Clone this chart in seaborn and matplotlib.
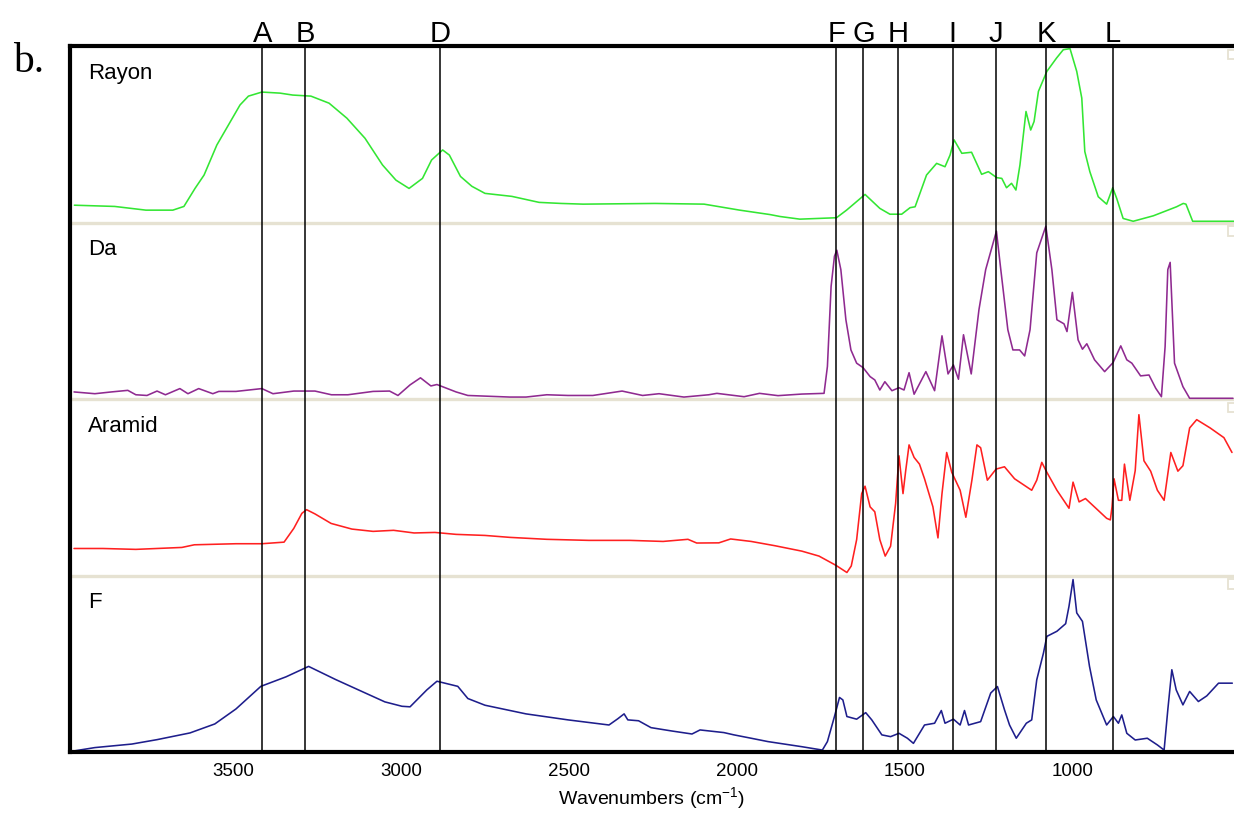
import numpy as np
import pandas as pd
import matplotlib
matplotlib.use("Agg")
import matplotlib.pyplot as plt
import matplotlib.transforms as mtrans
import seaborn as sns

sns.set_theme(style="white")
plt.rcParams["font.family"] = ["Liberation Sans", "DejaVu Sans"]
plt.rcParams["mathtext.fontset"] = "custom"
plt.rcParams["mathtext.rm"] = "Liberation Sans"

# ---------------- data (wavenumber cm-1, relative absorbance per panel) ----------------
rayon_wn = [3972, 3852, 3759, 3679, 3646, 3613, 3586, 3548, 3479, 3454, 3414, 3360, 3322, 3268, 3214,
            3161, 3107, 3055, 3015, 2976, 2936, 2909, 2876, 2856, 2823, 2789, 2750, 2670, 2589, 2524,
            2458, 2244, 2098, 1992, 1902, 1872, 1813, 1704, 1674, 1619, 1575, 1545, 1510, 1485, 1470,
            1436, 1406, 1381, 1366, 1354, 1331, 1302, 1272, 1252, 1227, 1212, 1198, 1183, 1170, 1158,
            1140, 1126, 1116, 1103, 1078, 1049, 1029, 1009, 989, 974, 965, 950, 925, 900, 882,
            870, 851, 821, 761, 692, 672, 664, 644, 521]
rayon_ab = [0.098, 0.091, 0.070, 0.070, 0.091, 0.193, 0.269, 0.439, 0.666, 0.716, 0.739, 0.733, 0.722, 0.716, 0.676,
            0.591, 0.477, 0.326, 0.240, 0.193, 0.250, 0.354, 0.411, 0.382, 0.261, 0.205, 0.165, 0.148, 0.114, 0.108,
            0.104, 0.108, 0.104, 0.070, 0.045, 0.034, 0.019, 0.027, 0.070, 0.159, 0.080, 0.047, 0.047, 0.084, 0.089,
            0.269, 0.335, 0.316, 0.382, 0.468, 0.392, 0.398, 0.273, 0.288, 0.254, 0.250, 0.197, 0.222, 0.184, 0.326,
            0.629, 0.524, 0.572, 0.743, 0.856, 0.932, 0.979, 0.985, 0.856, 0.705, 0.402, 0.288, 0.146, 0.104, 0.197,
            0.136, 0.023, 0.007, 0.038, 0.089, 0.108, 0.104, 0.007, 0.007]

da_wn = [3973, 3911, 3862, 3813, 3789, 3756, 3726, 3701, 3658, 3634, 3602, 3560, 3542, 3491, 3414,
         3381, 3319, 3256, 3207, 3158, 3083, 3034, 3009, 2973, 2942, 2911, 2893, 2836, 2801, 2676,
         2628, 2566, 2503, 2429, 2342, 2281, 2232, 2158, 2084, 2060, 1979, 1933, 1878, 1807, 1741,
         1731, 1720, 1710, 1703, 1691, 1676, 1661, 1644, 1625, 1604, 1590, 1575, 1560, 1539, 1518,
         1503, 1488, 1473, 1438, 1412, 1390, 1372, 1356, 1341, 1326, 1303, 1280, 1260, 1228, 1215,
         1194, 1179, 1159, 1144, 1128, 1108, 1081, 1063, 1048, 1027, 1018, 1002, 985, 972, 959,
         936, 906, 881, 858, 840, 825, 799, 774, 754, 737, 726, 718, 711, 698, 673, 653, 524]
da_ab = [0.040, 0.030, 0.040, 0.049, 0.024, 0.020, 0.045, 0.024, 0.059, 0.030, 0.059, 0.030, 0.043, 0.043, 0.059,
         0.030, 0.045, 0.045, 0.024, 0.024, 0.043, 0.045, 0.020, 0.080, 0.120, 0.074, 0.082, 0.040, 0.020, 0.011,
         0.011, 0.024, 0.020, 0.020, 0.045, 0.020, 0.030, 0.011, 0.024, 0.032, 0.013, 0.032, 0.019, 0.028, 0.032,
         0.184, 0.638, 0.809, 0.843, 0.733, 0.449, 0.278, 0.203, 0.178, 0.127, 0.108, 0.051, 0.098, 0.047, 0.064,
         0.051, 0.149, 0.027, 0.155, 0.047, 0.358, 0.142, 0.193, 0.112, 0.364, 0.142, 0.506, 0.733, 0.951, 0.733,
         0.392, 0.278, 0.278, 0.244, 0.392, 0.828, 0.979, 0.733, 0.449, 0.426, 0.382, 0.604, 0.335, 0.282, 0.313,
         0.222, 0.155, 0.206, 0.301, 0.222, 0.203, 0.131, 0.136, 0.061, 0.013, 0.297, 0.733, 0.774, 0.203, 0.070,
         0.004, 0.004]

aramid_wn = [3973, 3887, 3789, 3652, 3615, 3491, 3414, 3348, 3319, 3295, 3281, 3256, 3208, 3146, 3083,
             3022, 2961, 2899, 2836, 2750, 2676, 2566, 2441, 2319, 2220, 2146, 2120, 2054, 2019, 1958,
             1888, 1807, 1756, 1706, 1673, 1660, 1644, 1629, 1619, 1604, 1590, 1575, 1559, 1543, 1528,
             1518, 1506, 1498, 1488, 1473, 1457, 1442, 1417, 1402, 1390, 1376, 1361, 1336, 1319, 1301,
             1286, 1275, 1255, 1229, 1204, 1174, 1123, 1108, 1093, 1078, 1048, 1012, 1000, 982, 963,
             932, 900, 889, 884, 878, 865, 855, 847, 831, 815, 804, 789, 769, 749, 729,
             709, 688, 673, 653, 632, 592, 551, 527]
aramid_ab = [0.153, 0.153, 0.148, 0.159, 0.174, 0.180, 0.180, 0.189, 0.267, 0.352, 0.373, 0.349, 0.295, 0.263, 0.250,
             0.256, 0.241, 0.244, 0.233, 0.227, 0.216, 0.205, 0.199, 0.199, 0.193, 0.205, 0.184, 0.185, 0.207, 0.193,
             0.169, 0.138, 0.110, 0.058, 0.017, 0.054, 0.203, 0.464, 0.506, 0.389, 0.361, 0.203, 0.110, 0.166, 0.408,
             0.678, 0.464, 0.594, 0.740, 0.669, 0.631, 0.548, 0.389, 0.213, 0.464, 0.697, 0.585, 0.483, 0.330, 0.540,
             0.740, 0.724, 0.540, 0.603, 0.616, 0.548, 0.483, 0.540, 0.641, 0.585, 0.483, 0.381, 0.529, 0.417, 0.436,
             0.381, 0.324, 0.315, 0.389, 0.548, 0.426, 0.426, 0.631, 0.426, 0.594, 0.911, 0.650, 0.591, 0.483, 0.426,
             0.697, 0.591, 0.622, 0.836, 0.883, 0.836, 0.781, 0.697]

f_wn = [3973, 3911, 3801, 3726, 3628, 3554, 3491, 3417, 3342, 3275, 3195, 3121, 3048, 2997, 2973,
        2923, 2893, 2831, 2801, 2750, 2628, 2503, 2381, 2355, 2336, 2325, 2293, 2256, 2194, 2134,
        2110, 2039, 2009, 1958, 1908, 1807, 1746, 1731, 1710, 1695, 1685, 1673, 1644, 1617, 1599,
        1569, 1543, 1518, 1493, 1475, 1442, 1412, 1392, 1381, 1356, 1336, 1323, 1311, 1275, 1245,
        1225, 1204, 1189, 1169, 1139, 1123, 1108, 1088, 1078, 1048, 1022, 1012, 1000, 989, 972,
        951, 931, 900, 880, 865, 855, 840, 815, 779, 749, 729, 718, 706, 693, 673,
        653, 627, 602, 567, 526]
f_ab = [0.006, 0.025, 0.045, 0.070, 0.108, 0.159, 0.244, 0.372, 0.426, 0.485, 0.411, 0.347, 0.284, 0.259, 0.256,
        0.352, 0.401, 0.372, 0.303, 0.265, 0.216, 0.182, 0.153, 0.188, 0.216, 0.182, 0.177, 0.138, 0.119, 0.102,
        0.125, 0.110, 0.097, 0.078, 0.059, 0.030, 0.011, 0.059, 0.201, 0.309, 0.295, 0.201, 0.186, 0.223, 0.182,
        0.097, 0.087, 0.106, 0.078, 0.049, 0.153, 0.163, 0.235, 0.163, 0.186, 0.153, 0.235, 0.153, 0.172, 0.334,
        0.371, 0.239, 0.153, 0.078, 0.163, 0.182, 0.409, 0.561, 0.655, 0.684, 0.727, 0.826, 0.977, 0.788, 0.740,
        0.485, 0.295, 0.153, 0.201, 0.163, 0.210, 0.106, 0.068, 0.078, 0.040, 0.011, 0.239, 0.466, 0.352, 0.267,
        0.343, 0.286, 0.318, 0.390, 0.390]

panel_names = ["Rayon", "Da", "Aramid", "F"]
marker_letters = ["A", "B", "D", "F", "G", "H", "I", "J", "K", "L"]
marker_wn = [3413, 3285, 2884, 1704, 1624, 1522, 1358, 1229, 1081, 882]
tick_values = [3500, 3000, 2500, 2000, 1500, 1000]

# ---------------- figure ----------------
W, H = 1234, 814
fig = plt.figure(figsize=(W / 100, H / 100), dpi=100)
ax = fig.add_axes([70 / W, (H - 752) / H, (W - 70) / W, (752 - 46) / H])

series = [
    ("Rayon", rayon_wn, rayon_ab, "#33e633", 3),
    ("Da", da_wn, da_ab, "#8f2a90", 2),
    ("Aramid", aramid_wn, aramid_ab, "#ff2020", 1),
    ("F", f_wn, f_ab, "#1e1e8c", 0),
]

# panel separators (beige)
for k in (1, 2, 3):
    ax.axhline(k, color="#e6e2d2", lw=2.4, zorder=1)

ytrans = mtrans.blended_transform_factory(ax.transAxes, ax.transData)
for name, wn, ab, col, off in series:
    df = pd.DataFrame({"wn": wn, "val": np.asarray(ab) + off})
    sns.lineplot(data=df, x="wn", y="val", ax=ax, color=col, lw=1.15,
                 sort=False, estimator=None, zorder=2)
    ax.text(18 / 1164, off + 1 - 0.155, name, transform=ytrans,
            ha="left", va="center", fontsize=16, color="black")
    # small corner marks at the right of each panel
    ytop = off + 1
    ax.plot([521, 539, 539, 521], [ytop - 0.02, ytop - 0.02, ytop - 0.075, ytop - 0.075],
            color="#e6e2d2", lw=1.3, zorder=1, solid_joinstyle="miter")

# marker lines and letters
btrans = mtrans.blended_transform_factory(ax.transData, ax.transAxes)
for letter, w in zip(marker_letters, marker_wn):
    ax.axvline(w, color="black", lw=1.1, zorder=3)
    ax.text(w, 1.006, letter, transform=btrans, ha="center", va="baseline",
            fontsize=21, color="black", clip_on=False)

ax.set_xlim(3985, 521)
ax.set_ylim(0, 4)
ax.set_xticks(tick_values)
ax.set_xticklabels([str(t) for t in tick_values])
ax.set_yticks([])
ax.tick_params(axis="x", length=0, pad=8, labelsize=13.5, colors="black")
ax.set_xlabel("Wavenumbers (cm$^{\\mathregular{-1}}$)", fontsize=14, labelpad=4, color="black")
ax.set_ylabel("")

for side in ("left", "top", "bottom"):
    ax.spines[side].set_visible(True)
    ax.spines[side].set_color("black")
    ax.spines[side].set_linewidth(3.0)
ax.spines["right"].set_visible(False)

fig.text(13 / W, 1 - 72 / H, "b.", family=["Liberation Serif", "DejaVu Serif"],
         fontsize=30, va="baseline", ha="left", color="black")

fig.savefig("out.png", dpi=100, facecolor="white")
